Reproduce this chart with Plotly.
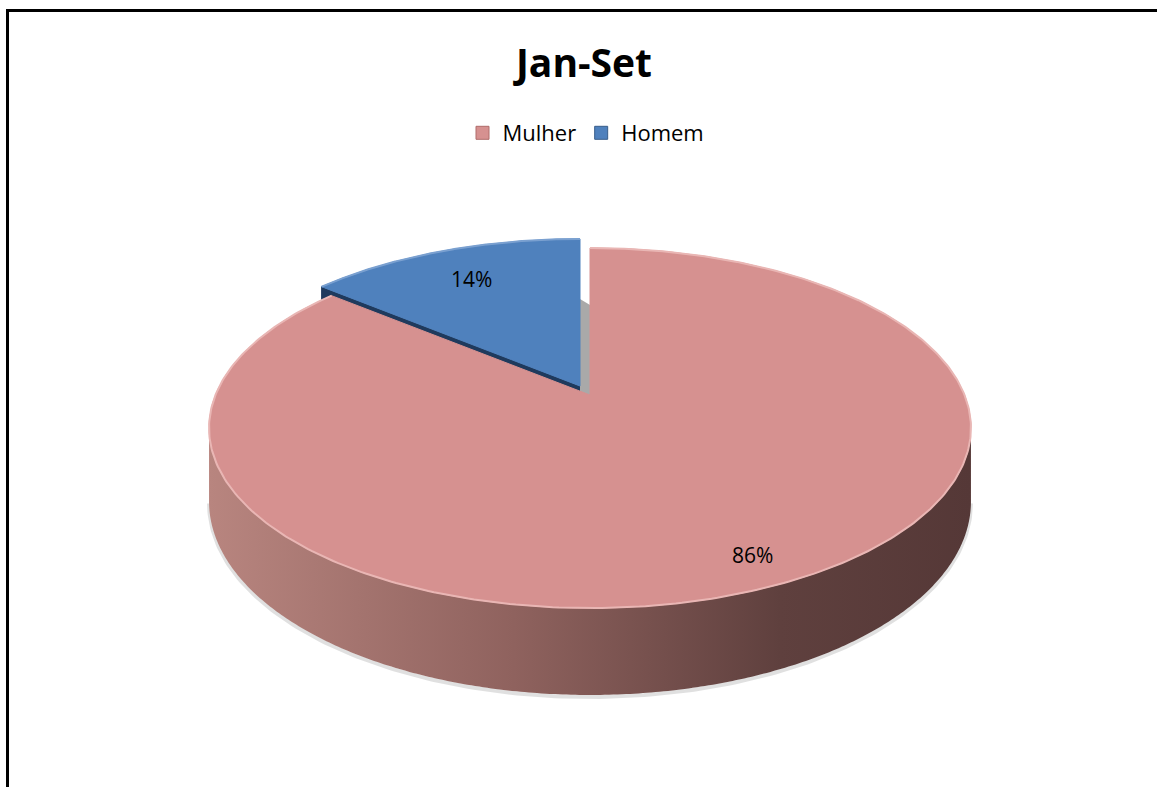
import numpy as np
import plotly.graph_objects as go

# ---- data ----
categories = ["Mulher", "Homem"]
values = [86, 14]
title_text = "Jan-Set"

# ---- style ----
top_colors = ["#d69190", "#4f81bd"]
edge_colors = ["#e9b6b4", "#7aa0d0"]
legend_line = ["#b06c6a", "#385d8a"]
cut_colors = ["#8a5a58", "#1f3a5d"]
side_scale = [[0.0, "#b8857f"], [0.4, "#8f625e"], [0.75, "#5f403e"], [1.0, "#553837"]]
explode = [(0, 0), (-10, -9)]
label_r = [0.87, 0.77]
FONT = "Open Sans"

W, H = 1157, 787
CX, CY = 590, 395          # pie apex on screen
RX, K, C = 374.5, 174, 0.1833   # ellipse + perspective factors
DEPTH = 71


def proj(phi_deg, r=1.0, ox=0.0, oy=0.0, drop=0.0):
    phi = np.radians(phi_deg)
    u = r * np.sin(phi)
    v = r * np.cos(phi)
    w = 1 + C * v
    return CX + RX * u / w + ox, CY - K * v / w + oy + drop / w


total = float(sum(values))
bounds = np.concatenate([[0.0], np.cumsum(values) / total * 360.0])
phi_front = (np.degrees(np.arccos(-C)), 360 - np.degrees(np.arccos(-C)))

fig = go.Figure()

# draw back slice (Homem) first, then front slice (Mulher)
order = [1, 0]

# soft shadow below the rim
for i in order:
    a, b = bounds[i], bounds[i + 1]
    s0, s1 = max(a, phi_front[0]), min(b, phi_front[1])
    if s1 > s0:
        ox, oy = explode[i]
        ph = np.linspace(s0, s1, 200)
        x, y = proj(ph, ox=ox, oy=oy + 2, drop=DEPTH)
        fig.add_trace(go.Scatter(x=x, y=y, mode="lines",
                                 line=dict(color="rgba(0,0,0,0.12)", width=4),
                                 hoverinfo="skip", showlegend=False))

for i in order:
    a, b = bounds[i], bounds[i + 1]
    ox, oy = explode[i]
    # cut face at the start edge (visible for the back slice)
    if i == 1:
        rx0, ry0 = proj(a, ox=ox, oy=oy)
        rx1, ry1 = proj(a, ox=ox, oy=oy, drop=DEPTH)
        ax0, ay0 = proj(0, r=0, ox=ox, oy=oy)
        ax1, ay1 = proj(0, r=0, ox=ox, oy=oy, drop=DEPTH)
        fig.add_trace(go.Scatter(x=[ax0, rx0, rx1, ax1, ax0], y=[ay0, ry0, ry1, ay1, ay0],
                                 fill="toself", fillcolor=cut_colors[i], mode="lines",
                                 line=dict(color=cut_colors[i], width=1),
                                 hoverinfo="skip", showlegend=False))
        # gap face at 12 o'clock between the slices
        tx, ty = proj(b, ox=ox, oy=oy, drop=DEPTH)
        mx, _ = proj(0, r=0, ox=explode[0][0], oy=explode[0][1])
        fig.add_trace(go.Scatter(x=[tx, mx, mx, tx, tx], y=[ty, ty + 6, ay1, ay1, ty],
                                 fill="toself", fillcolor="#a9a9a9", mode="none",
                                 hoverinfo="skip", showlegend=False))
    # outer rim side
    s0, s1 = max(a, phi_front[0]), min(b, phi_front[1])
    if s1 > s0:
        ph = np.linspace(s0, s1, 300)
        xt, yt = proj(ph, ox=ox, oy=oy)
        xb, yb = proj(ph[::-1], ox=ox, oy=oy, drop=DEPTH)
        fig.add_trace(go.Scatter(x=np.concatenate([xt, xb, xt[:1]]),
                                 y=np.concatenate([yt, yb, yt[:1]]),
                                 fill="toself", mode="none",
                                 fillgradient=dict(type="horizontal", colorscale=side_scale),
                                 hoverinfo="skip", showlegend=False))
    # top face
    ph = np.linspace(a, b, 400)
    xa, ya = proj(ph, ox=ox, oy=oy)
    ax0, ay0 = proj(0, r=0, ox=ox, oy=oy)
    fig.add_trace(go.Scatter(x=np.concatenate([[ax0], xa, [ax0]]),
                             y=np.concatenate([[ay0], ya, [ay0]]),
                             fill="toself", fillcolor=top_colors[i], mode="lines",
                             line=dict(color=top_colors[i], width=1),
                             hoverinfo="skip", showlegend=False))
    fig.add_trace(go.Scatter(x=xa, y=ya, mode="lines",
                             line=dict(color=edge_colors[i], width=2),
                             hoverinfo="skip", showlegend=False))

# labels
for i, cat in enumerate(categories):
    mid = (bounds[i] + bounds[i + 1]) / 2
    lx, ly = proj(mid, r=label_r[i], ox=explode[i][0], oy=explode[i][1])
    pct = round(values[i] / total * 100)
    fig.add_annotation(x=lx, y=ly, text=f"{pct}%", showarrow=False,
                       font=dict(family=FONT, size=21, color="#000000"))

# legend entries
for i, cat in enumerate(categories):
    fig.add_trace(go.Scatter(x=[None], y=[None], mode="markers", name=cat,
                             marker=dict(symbol="square", size=13, color=top_colors[i],
                                         line=dict(color=legend_line[i], width=1))))

# chart-area border (left and top edges are inside the picture)
fig.add_shape(type="line", xref="x", yref="y", x0=7.5, y0=10.5, x1=7.5, y1=H + 30,
              line=dict(color="#000000", width=3), layer="above")
fig.add_shape(type="line", xref="x", yref="y", x0=6, y0=10.5, x1=W + 30, y1=10.5,
              line=dict(color="#000000", width=3), layer="above")

fig.update_layout(
    width=W, height=H,
    margin=dict(l=0, r=0, t=0, b=0),
    paper_bgcolor="white", plot_bgcolor="white",
    title=dict(text=f"<b>{title_text}</b>", x=584 / W, xanchor="center",
               y=1 - 63 / H, yanchor="middle",
               font=dict(family=FONT, size=39, color="#000000")),
    legend=dict(orientation="h", x=586 / W, xanchor="center", y=1 - 133 / H, yanchor="middle",
                font=dict(family=FONT, size=22, color="#000000"), bgcolor="rgba(0,0,0,0)",
                itemclick=False),
    xaxis=dict(range=[0, W], visible=False, fixedrange=True),
    yaxis=dict(range=[H, 0], visible=False, fixedrange=True),
    showlegend=True,
)

fig.write_html("out.html", config={"displayModeBar": False},
               post_script="document.body.style.margin='0';")
